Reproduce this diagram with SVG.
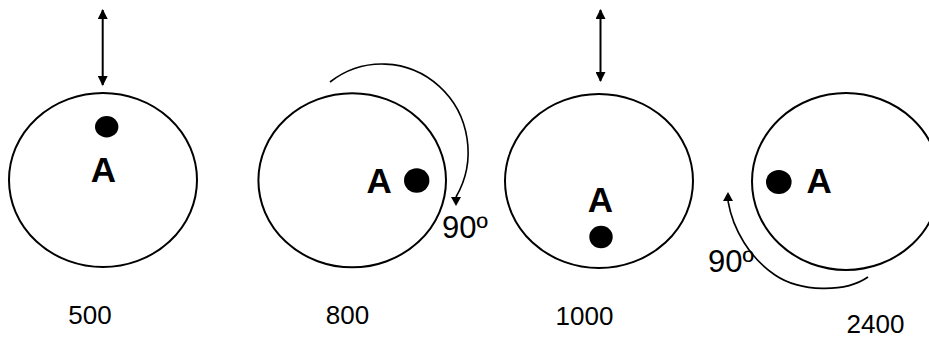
<svg xmlns="http://www.w3.org/2000/svg" width="929" height="340" viewBox="0 0 929 340">
<style>
.disc{fill:none;stroke:#000;stroke-width:2}
.dot{fill:#000}
.lbl{font-family:"Liberation Sans",Arial,sans-serif;font-weight:bold;font-size:35px;fill:#000;text-anchor:middle}
.num{font-family:"Liberation Sans",Arial,sans-serif;font-size:26px;fill:#000;text-anchor:middle}
.deg{font-family:"Liberation Sans",Arial,sans-serif;font-size:31px;fill:#000}
.conn{fill:none;stroke:#000;stroke-width:2}
.arc{fill:none;stroke:#000;stroke-width:1.6}
.head{fill:#000}
</style>
<defs>
<marker id="ah" viewBox="0 0 10 10" refX="9" refY="5" markerWidth="5" markerHeight="5" orient="auto-start-reverse" markerUnits="strokeWidth">
<path d="M0,0 L10,5 L0,10 Z" fill="#000"/>
</marker>
</defs>
<rect width="929" height="340" fill="#fff"/>
<g id="node-500">
<ellipse class="disc" cx="103" cy="180" rx="94" ry="87"/>
<ellipse class="dot" cx="106.7" cy="126.7" rx="11.7" ry="10.7"/>
<text class="lbl" x="103.5" y="181.7">A</text>
<text class="num" x="90" y="324">500</text>
</g>
<g id="node-800">
<ellipse class="disc" cx="352.2" cy="180.3" rx="93.8" ry="87"/>
<ellipse class="dot" cx="416.7" cy="180.5" rx="12.7" ry="12.2"/>
<text class="lbl" x="379.2" y="192.7">A</text>
<text class="num" x="347.5" y="324">800</text>
<text class="deg" x="442" y="238">90º</text>
</g>
<g id="node-1000">
<ellipse class="disc" cx="599" cy="181" rx="94" ry="87"/>
<ellipse class="dot" cx="601" cy="237" rx="11.7" ry="11.2"/>
<text class="lbl" x="600.5" y="211.7">A</text>
<text class="num" x="584.5" y="325">1000</text>
</g>
<g id="node-2400">
<ellipse class="disc" cx="846" cy="181.5" rx="94" ry="88.5"/>
<ellipse class="dot" cx="778.8" cy="182" rx="12.8" ry="12"/>
<text class="lbl" x="819.2" y="193.3">A</text>
<text class="num" x="875.5" y="333">2400</text>
<text class="deg" x="708" y="272">90º</text>
</g>
<g id="connectors">
<line class="conn" x1="102.7" y1="10" x2="102.7" y2="85" marker-start="url(#ah)" marker-end="url(#ah)"/>
<line class="conn" x1="600.5" y1="10" x2="600.5" y2="81" marker-start="url(#ah)" marker-end="url(#ah)"/>
<path class="arc" d="M330,82 A86,88 0 0 1 456,197"/>
<polygon class="head" points="451,197 461,197 456,206"/>
<path class="arc" d="M868,277 C845,293 800,292 775,275 C750,258 733,230 728,201"/>
<polygon class="head" points="723,201 733,201 728,192"/>
</g>
</svg>
